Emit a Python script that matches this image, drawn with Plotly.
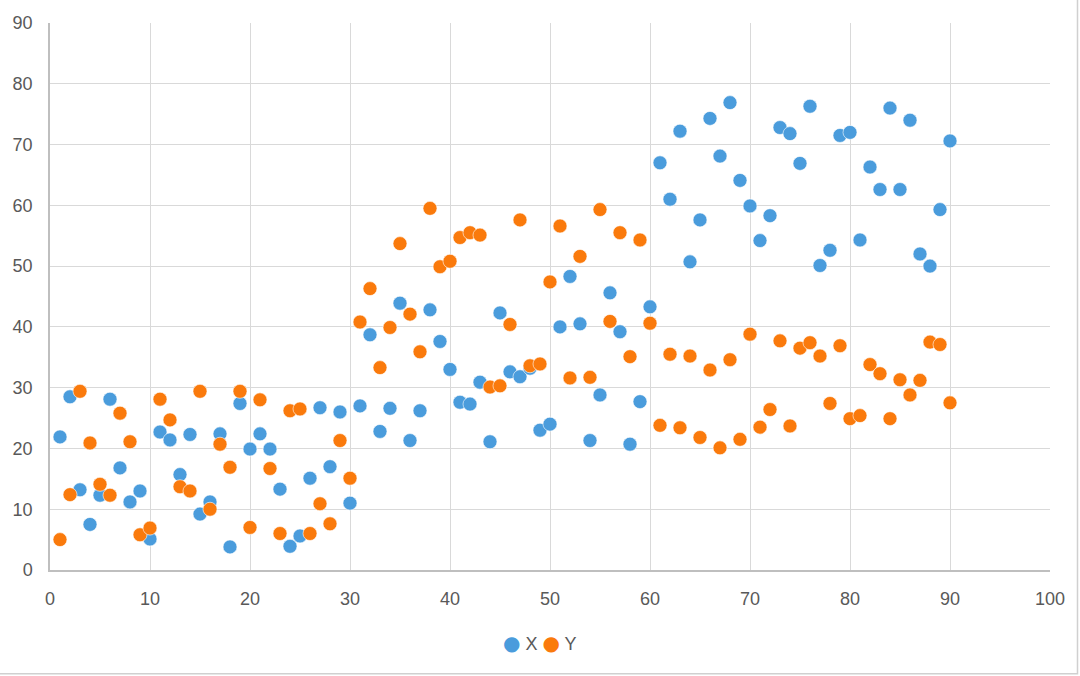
import plotly.graph_objects as go

idx = list(range(1, 91))

x_series = [21.9, 28.5, 13.2, 7.5, 12.3, 28.1, 16.8, 11.2, 13.0, 5.1,
            22.7, 21.4, 15.7, 22.3, 9.2, 11.2, 22.4, 3.8, 27.4, 19.9,
            22.4, 19.9, 13.3, 3.9, 5.6, 15.1, 26.7, 17.0, 26.0, 11.0,
            27.0, 38.7, 22.8, 26.6, 43.9, 21.3, 26.2, 42.8, 37.6, 33.0,
            27.6, 27.3, 30.9, 21.1, 42.3, 32.6, 31.8, 33.2, 23.0, 24.0,
            40.0, 48.3, 40.5, 21.3, 28.8, 45.6, 39.2, 20.7, 27.7, 43.3,
            67.0, 61.0, 72.2, 50.7, 57.6, 74.3, 68.1, 76.9, 64.1, 59.9,
            54.2, 58.3, 72.8, 71.8, 66.9, 76.3, 50.1, 52.6, 71.5, 72.0,
            54.3, 66.3, 62.6, 76.0, 62.6, 74.0, 52.0, 50.0, 59.3, 70.6]

y_series = [5.0, 12.4, 29.4, 20.9, 14.1, 12.3, 25.8, 21.1, 5.8, 6.9,
            28.1, 24.7, 13.7, 13.0, 29.4, 10.0, 20.7, 16.9, 29.4, 7.0,
            28.0, 16.7, 6.0, 26.2, 26.5, 6.0, 10.9, 7.6, 21.3, 15.1,
            40.8, 46.3, 33.3, 39.9, 53.7, 42.1, 35.9, 59.5, 49.9, 50.8,
            54.7, 55.5, 55.1, 30.1, 30.3, 40.4, 57.6, 33.6, 33.9, 47.4,
            56.6, 31.6, 51.6, 31.7, 59.3, 40.9, 55.5, 35.1, 54.3, 40.6,
            23.8, 35.5, 23.4, 35.2, 21.8, 32.9, 20.1, 34.6, 21.5, 38.8,
            23.5, 26.4, 37.7, 23.7, 36.5, 37.4, 35.2, 27.4, 36.9, 24.9,
            25.4, 33.8, 32.3, 24.9, 31.3, 28.8, 31.2, 37.5, 37.1, 27.5]

series_names = ["X", "Y"]
colors = ["#4A9CDC", "#FA7A0C"]

fig = go.Figure()
for name, vals, c in zip(series_names, [x_series, y_series], colors):
    fig.add_trace(go.Scatter(
        x=idx, y=vals, mode="markers", name=name, showlegend=False,
        marker=dict(size=14, color=c, line=dict(width=0.6, color="white")),
    ))

font = dict(family="Liberation Sans, Arial, sans-serif", size=18, color="#595959")

legend_text = "".join(
    f"<span style='color:{c};font-family:DejaVu Sans;font-size:20px'>●</span> {n} "
    for n, c in zip(series_names, colors)
).strip()

fig.update_layout(
    width=1080, height=676,
    margin=dict(l=50, r=30, t=23, b=106),
    paper_bgcolor="white", plot_bgcolor="white",
    font=font,
    annotations=[dict(xref="paper", yref="paper", x=0.49, y=-0.1335,
                      xanchor="center", yanchor="middle", showarrow=False,
                      text=legend_text, font=font)],
    shapes=[dict(type="rect", xref="paper", yref="paper",
                 x0=-0.06, x1=1.0275, y0=-0.1895, y1=1.06,
                 line=dict(color="#d0d0d0", width=1.5), fillcolor="rgba(0,0,0,0)", layer="below")],
)
fig.update_xaxes(range=[0, 100], dtick=10, tick0=0, showgrid=True, gridcolor="#d9d9d9", gridwidth=1,
                 showline=True, linecolor="#bfbfbf", linewidth=1.5, zeroline=False,
                 ticks="", ticklabelstandoff=12, tickfont=font, fixedrange=True)
fig.update_yaxes(range=[0, 90], dtick=10, tick0=0, showgrid=True, gridcolor="#d9d9d9", gridwidth=1,
                 showline=True, linecolor="#bfbfbf", linewidth=1.5, zeroline=False,
                 ticks="", ticklabelstandoff=12, tickfont=font, fixedrange=True)

fig.write_html("out.html", config={"displayModeBar": False},
               post_script="document.body.style.margin='0';")
